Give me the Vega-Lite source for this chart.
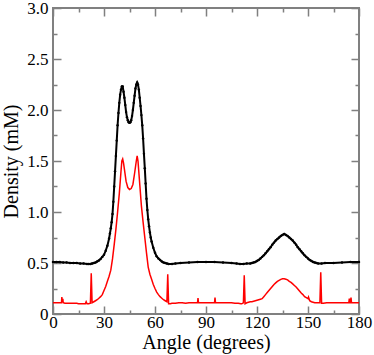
{
  "$schema": "https://vega.github.io/schema/vega-lite/v6.json",
  "width": 306,
  "height": 306,
  "autosize": {"type": "none"},
  "padding": {"left": 53, "top": 8, "right": 15, "bottom": 41},
  "background": "white",
  "config": {
    "view": {"stroke": "#808080", "strokeWidth": 2},
    "font": "Liberation Serif"
  },
  "datasets": {
    "black": [
      {"a":0,"d":0.51},{"a":2,"d":0.51},{"a":4,"d":0.51},{"a":6,"d":0.505},{"a":8,"d":0.505},{"a":10,"d":0.5},{"a":12,"d":0.5},{"a":14,"d":0.5},{"a":16,"d":0.495},{"a":18,"d":0.495},{"a":20,"d":0.49},{"a":21,"d":0.49},{"a":22,"d":0.49},{"a":23,"d":0.495},{"a":24,"d":0.5},{"a":25,"d":0.505},{"a":26,"d":0.515},{"a":27,"d":0.525},{"a":28,"d":0.54},{"a":29,"d":0.56},{"a":30,"d":0.58},{"a":31,"d":0.62},{"a":32,"d":0.67},{"a":33,"d":0.74},{"a":33.5,"d":0.79},{"a":34,"d":0.84},{"a":34.5,"d":0.9},{"a":35,"d":0.98},{"a":35.5,"d":1.1},{"a":36,"d":1.25},{"a":36.5,"d":1.4},{"a":37,"d":1.55},{"a":37.5,"d":1.7},{"a":38,"d":1.85},{"a":38.5,"d":1.97},{"a":39,"d":2.07},{"a":39.5,"d":2.15},{"a":40,"d":2.2},{"a":40.5,"d":2.23},{"a":41,"d":2.23},{"a":41.5,"d":2.18},{"a":42,"d":2.12},{"a":42.5,"d":2.05},{"a":43,"d":1.98},{"a":43.5,"d":1.93},{"a":44,"d":1.9},{"a":44.5,"d":1.88},{"a":45,"d":1.875},{"a":45.5,"d":1.88},{"a":46,"d":1.9},{"a":46.5,"d":1.94},{"a":47,"d":2.0},{"a":47.5,"d":2.07},{"a":48,"d":2.14},{"a":48.5,"d":2.21},{"a":49,"d":2.25},{"a":49.5,"d":2.27},{"a":50,"d":2.25},{"a":50.5,"d":2.2},{"a":51,"d":2.12},{"a":51.5,"d":2.04},{"a":52,"d":1.95},{"a":52.5,"d":1.85},{"a":53,"d":1.72},{"a":53.5,"d":1.57},{"a":54,"d":1.43},{"a":54.5,"d":1.28},{"a":55,"d":1.13},{"a":55.5,"d":1.02},{"a":56,"d":0.93},{"a":56.5,"d":0.86},{"a":57,"d":0.8},{"a":57.5,"d":0.75},{"a":58,"d":0.71},{"a":59,"d":0.65},{"a":60,"d":0.6},{"a":61,"d":0.565},{"a":62,"d":0.545},{"a":63,"d":0.53},{"a":64,"d":0.515},{"a":65,"d":0.505},{"a":66,"d":0.5},{"a":67,"d":0.495},{"a":68,"d":0.49},{"a":70,"d":0.49},{"a":72,"d":0.495},{"a":75,"d":0.5},{"a":80,"d":0.505},{"a":85,"d":0.51},{"a":90,"d":0.51},{"a":95,"d":0.51},{"a":100,"d":0.505},{"a":105,"d":0.5},{"a":108,"d":0.495},{"a":110,"d":0.49},{"a":112,"d":0.49},{"a":114,"d":0.495},{"a":116,"d":0.495},{"a":117,"d":0.5},{"a":118,"d":0.505},{"a":119,"d":0.51},{"a":120,"d":0.52},{"a":121,"d":0.53},{"a":122,"d":0.545},{"a":123,"d":0.56},{"a":124,"d":0.575},{"a":125,"d":0.595},{"a":126,"d":0.615},{"a":127,"d":0.635},{"a":128,"d":0.655},{"a":129,"d":0.68},{"a":130,"d":0.7},{"a":131,"d":0.72},{"a":132,"d":0.735},{"a":133,"d":0.75},{"a":134,"d":0.765},{"a":135,"d":0.775},{"a":136,"d":0.785},{"a":137,"d":0.775},{"a":138,"d":0.765},{"a":139,"d":0.75},{"a":140,"d":0.735},{"a":141,"d":0.72},{"a":142,"d":0.7},{"a":143,"d":0.68},{"a":144,"d":0.655},{"a":145,"d":0.635},{"a":146,"d":0.615},{"a":147,"d":0.595},{"a":148,"d":0.575},{"a":149,"d":0.56},{"a":150,"d":0.545},{"a":151,"d":0.53},{"a":152,"d":0.52},{"a":153,"d":0.51},{"a":154,"d":0.505},{"a":155,"d":0.5},{"a":156,"d":0.495},{"a":158,"d":0.495},{"a":160,"d":0.5},{"a":165,"d":0.5},{"a":170,"d":0.505},{"a":175,"d":0.51},{"a":180,"d":0.51}
    ],
    "red": [
      {"a":0,"d":0.11},{"a":1,"d":0.11},{"a":2,"d":0.11},{"a":3,"d":0.11},{"a":4,"d":0.11},{"a":5,"d":0.11},{"a":5.2,"d":0.165},{"a":5.5,"d":0.12},{"a":5.8,"d":0.15},{"a":6,"d":0.11},{"a":7,"d":0.105},{"a":8,"d":0.105},{"a":9,"d":0.105},{"a":10,"d":0.105},{"a":11,"d":0.105},{"a":12,"d":0.105},{"a":13,"d":0.105},{"a":14,"d":0.105},{"a":15,"d":0.1},{"a":16,"d":0.1},{"a":17,"d":0.1},{"a":18,"d":0.1},{"a":19,"d":0.1},{"a":19.5,"d":0.12},{"a":20,"d":0.1},{"a":21,"d":0.1},{"a":22,"d":0.105},{"a":22.5,"d":0.4},{"a":23,"d":0.11},{"a":24,"d":0.12},{"a":25,"d":0.13},{"a":26,"d":0.14},{"a":27,"d":0.155},{"a":28,"d":0.17},{"a":29,"d":0.19},{"a":30,"d":0.23},{"a":31,"d":0.27},{"a":32,"d":0.32},{"a":33,"d":0.37},{"a":34,"d":0.43},{"a":35,"d":0.54},{"a":36,"d":0.68},{"a":37,"d":0.83},{"a":38,"d":1.0},{"a":39,"d":1.18},{"a":40,"d":1.4},{"a":40.5,"d":1.5},{"a":41,"d":1.52},{"a":41.5,"d":1.48},{"a":42,"d":1.42},{"a":43,"d":1.3},{"a":44,"d":1.24},{"a":45,"d":1.22},{"a":46,"d":1.23},{"a":47,"d":1.27},{"a":48,"d":1.38},{"a":49,"d":1.5},{"a":49.5,"d":1.55},{"a":50,"d":1.5},{"a":51,"d":1.28},{"a":52,"d":1.06},{"a":53,"d":0.9},{"a":54,"d":0.75},{"a":55,"d":0.6},{"a":56,"d":0.46},{"a":57,"d":0.39},{"a":58,"d":0.34},{"a":59,"d":0.29},{"a":60,"d":0.25},{"a":61,"d":0.215},{"a":62,"d":0.19},{"a":63,"d":0.17},{"a":64,"d":0.155},{"a":65,"d":0.14},{"a":66,"d":0.13},{"a":67,"d":0.12},{"a":67.5,"d":0.39},{"a":68,"d":0.1},{"a":69,"d":0.1},{"a":70,"d":0.105},{"a":72,"d":0.105},{"a":74,"d":0.11},{"a":76,"d":0.11},{"a":78,"d":0.105},{"a":80,"d":0.11},{"a":82,"d":0.11},{"a":84,"d":0.11},{"a":85,"d":0.11},{"a":85.3,"d":0.155},{"a":85.6,"d":0.11},{"a":87,"d":0.11},{"a":89,"d":0.11},{"a":91,"d":0.11},{"a":93,"d":0.11},{"a":95,"d":0.11},{"a":95.3,"d":0.16},{"a":95.6,"d":0.11},{"a":97,"d":0.11},{"a":99,"d":0.11},{"a":101,"d":0.11},{"a":103,"d":0.11},{"a":105,"d":0.11},{"a":107,"d":0.105},{"a":109,"d":0.105},{"a":110.5,"d":0.1},{"a":111,"d":0.1},{"a":112,"d":0.11},{"a":112.5,"d":0.38},{"a":113,"d":0.1},{"a":114,"d":0.11},{"a":115,"d":0.115},{"a":116,"d":0.12},{"a":117,"d":0.12},{"a":118,"d":0.125},{"a":119,"d":0.13},{"a":120,"d":0.135},{"a":121,"d":0.14},{"a":122,"d":0.145},{"a":123,"d":0.15},{"a":124,"d":0.17},{"a":125,"d":0.19},{"a":126,"d":0.21},{"a":127,"d":0.23},{"a":128,"d":0.25},{"a":129,"d":0.27},{"a":130,"d":0.29},{"a":131,"d":0.305},{"a":132,"d":0.32},{"a":133,"d":0.33},{"a":134,"d":0.34},{"a":135,"d":0.345},{"a":136,"d":0.345},{"a":137,"d":0.34},{"a":138,"d":0.335},{"a":139,"d":0.32},{"a":140,"d":0.31},{"a":141,"d":0.295},{"a":142,"d":0.28},{"a":143,"d":0.265},{"a":144,"d":0.245},{"a":145,"d":0.225},{"a":146,"d":0.205},{"a":147,"d":0.19},{"a":148,"d":0.17},{"a":149,"d":0.16},{"a":150,"d":0.15},{"a":150.3,"d":0.165},{"a":151,"d":0.13},{"a":152,"d":0.12},{"a":153,"d":0.115},{"a":154,"d":0.11},{"a":155,"d":0.11},{"a":156,"d":0.11},{"a":157,"d":0.11},{"a":157.5,"d":0.41},{"a":158,"d":0.105},{"a":159,"d":0.105},{"a":161,"d":0.11},{"a":163,"d":0.11},{"a":165,"d":0.11},{"a":167,"d":0.11},{"a":169,"d":0.11},{"a":171,"d":0.11},{"a":173,"d":0.11},{"a":174,"d":0.11},{"a":174.3,"d":0.15},{"a":174.6,"d":0.11},{"a":175,"d":0.11},{"a":175.3,"d":0.16},{"a":175.6,"d":0.11},{"a":177,"d":0.11},{"a":179,"d":0.11},{"a":180,"d":0.11}
    ]
  },
  "layer": [
    {
      "data": {"name": "red"},
      "mark": {"type": "line", "color": "#ff0000", "strokeWidth": 1.5},
      "encoding": {
        "x": {
          "field": "a", "type": "quantitative",
          "scale": {"domain": [0, 180], "nice": false},
          "axis": {
            "orient": "bottom",
            "values": [0,30,60,90,120,150,180],
            "domain": false,
            "ticks": false,
            "grid": true,
            "gridColor": "#808080",
            "gridOpacity": 1,
            "gridWidth": 1.5,
            "gridDash": [8, 290],
            "labelFont": "Liberation Serif",
            "labelFontSize": 17,
            "labelColor": "black",
            "labelPadding": 0,
            "labelOverlap": false,
            "labelFlush": false,
            "title": "Angle (degrees)",
            "titleFont": "Liberation Serif",
            "titleFontSize": 20,
            "titleFontWeight": "normal",
            "titleColor": "black",
            "titlePadding": 2
          }
        },
        "y": {
          "field": "d", "type": "quantitative",
          "scale": {"domain": [0, 3], "nice": false},
          "axis": {
            "orient": "left",
            "values": [0,0.5,1,1.5,2,2.5,3],
            "domain": false,
            "ticks": false,
            "grid": true,
            "gridColor": "#808080",
            "gridOpacity": 1,
            "gridWidth": 1.5,
            "gridDash": [8, 290],
            "labelExpr": "datum.value === 0 ? '0' : format(datum.value, '.1f')",
            "labelFont": "Liberation Serif",
            "labelFontSize": 17,
            "labelColor": "black",
            "labelPadding": 5,
            "labelOverlap": false,
            "labelFlush": false,
            "title": "Density (mM)",
            "titleFont": "Liberation Serif",
            "titleFontSize": 20,
            "titleFontWeight": "normal",
            "titleColor": "black",
            "titlePadding": 5
          }
        }
      }
    },
    {
      "data": {"name": "black"},
      "mark": {"type": "line", "color": "black", "strokeWidth": 2},
      "encoding": {
        "x": {
          "field": "a", "type": "quantitative",
          "axis": {
            "orient": "bottom",
            "values": [15,45,75,105,135,165],
            "domain": false,
            "ticks": false,
            "labels": false,
            "title": null,
            "grid": true,
            "gridColor": "#808080",
            "gridOpacity": 1,
            "gridWidth": 1.5,
            "gridDash": [4, 298]
          }
        },
        "y": {
          "field": "d", "type": "quantitative",
          "axis": {
            "orient": "left",
            "values": [0.25,0.75,1.25,1.75,2.25,2.75],
            "domain": false,
            "ticks": false,
            "labels": false,
            "title": null,
            "grid": true,
            "gridColor": "#808080",
            "gridOpacity": 1,
            "gridWidth": 1.5,
            "gridDash": [4, 298]
          }
        }
      }
    },
    {
      "data": {"name": "black"},
      "mark": {"type": "point", "filled": true, "size": 6, "color": "black", "opacity": 1},
      "encoding": {
        "x": {"field": "a", "type": "quantitative", "axis": null},
        "y": {"field": "d", "type": "quantitative", "axis": null}
      }
    }
  ],
  "resolve": {"axis": {"x": "independent", "y": "independent"}}
}
